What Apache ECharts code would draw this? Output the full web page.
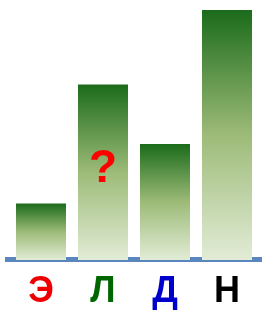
<!DOCTYPE html>
<html>
<head>
<meta charset="utf-8">
<script src="https://cdn.jsdelivr.net/npm/echarts@6/dist/echarts.min.js"></script>
<style>
  html, body { margin: 0; padding: 0; background: #fff; }
  #chart { width: 264px; height: 310px; }
</style>
</head>
<body>
<div id="chart"></div>
<script>
// categories and values (max bar = 100)
const categories = ["Э", "Л", "Д", "Н"];
const values = [22.6, 70.2, 46.4, 100];
const labelColors = ["#ee0000", "#006600", "#0000cc", "#000000"];
const questionIndex = 1;

const myChart = echarts.init(document.getElementById("chart"));

let rich = {};
for (let i = 0; i < categories.length; i++) {
  rich["c" + i] = {
    color: labelColors[i],
    fontSize: 36,
    fontWeight: "bold",
    fontFamily: "Liberation Sans",
    textShadowColor: "rgba(0,0,0,0.35)",
    textShadowOffsetX: 1,
    textShadowOffsetY: 1
  };
}

let seriesData = values.map(function(v, i) {
  let item = { value: v };
  if (i === questionIndex) {
    item.label = {
      show: true,
      position: "inside",
      offset: [0, -3],
      formatter: "?",
      color: "#ff0000",
      fontSize: 46,
      fontWeight: "bold",
      fontFamily: "Liberation Sans",
      textShadowColor: "#7a0000",
      textShadowOffsetX: 2,
      textShadowOffsetY: 2
    };
  }
  return item;
});

let option = {
  animation: false,
  grid: { left: 10, right: 6, top: 10, bottom: 48 },
  xAxis: {
    type: "category",
    data: categories,
    axisLine: { show: false },
    axisTick: { show: false },
    axisLabel: {
      margin: 14,
      formatter: function(val, idx) {
        return "{c" + idx + "|" + val + "}";
      },
      rich: rich
    }
  },
  yAxis: {
    type: "value",
    min: 0,
    max: 100,
    show: false
  },
  graphic: [
    {
      type: "rect",
      z: 0,
      shape: { x: 5, y: 257, width: 257, height: 5 },
      style: { fill: "#5a86c0" }
    }
  ],
  series: [
    {
      type: "bar",
      z: 2,
      barWidth: 50,
      data: seriesData,
      itemStyle: {
        color: new echarts.graphic.LinearGradient(0, 0, 0, 1, [
          { offset: 0, color: "#1b6b1b" },
          { offset: 0.5, color: "#9dbb78" },
          { offset: 1, color: "#e2ecd6" }
        ])
      }
    }
  ]
};

myChart.setOption(option);
</script>
</body>
</html>
